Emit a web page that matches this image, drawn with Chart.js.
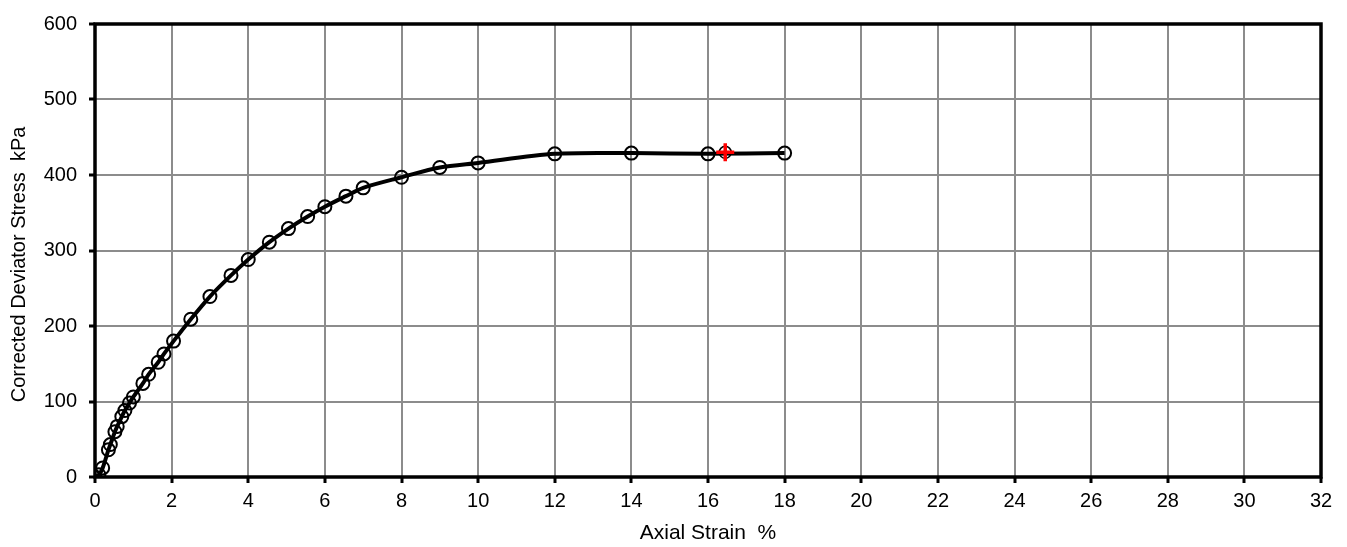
<!DOCTYPE html>
<html>
<head>
<meta charset="utf-8">
<script src="https://cdn.jsdelivr.net/npm/chart.js@4/dist/chart.umd.min.js"></script>
<style>
  html, body { margin: 0; padding: 0; background: #fff; }
  #wrap { width: 1347px; height: 547px; position: relative; }
</style>
</head>
<body>
<div id="wrap"><canvas id="c"></canvas></div>
<script>
// Axial strain (%) and corrected deviator stress (kPa)
const strain = [0, 0.1, 0.2, 0.35, 0.4, 0.52, 0.58, 0.7, 0.78, 0.9, 1.0, 1.25, 1.4, 1.65, 1.8, 2.05,
  2.5, 3.0, 3.55, 4.0, 4.55, 5.05, 5.55, 6.0, 6.55, 7.0, 8.0, 9.0, 10.0, 12.0, 14.0, 16.0, 18.0];
const stress = [0, 3, 12, 36, 43, 60, 67, 80, 88, 98, 106, 124, 136, 152, 163, 180,
  209, 239, 267, 288, 311, 329, 345, 358, 372, 383, 397, 410, 416, 428, 429, 428, 429];
// failure point
const failStrain = [16.45];
const failStress = [430];

const xTicks = [0, 2, 4, 6, 8, 10, 12, 14, 16, 18, 20, 22, 24, 26, 28, 30, 32];
const yTicks = [0, 100, 200, 300, 400, 500, 600];

const FONT = { family: 'Liberation Sans, Arial, sans-serif', size: 20 };
const TITLE_FONT = { family: 'Liberation Sans, Arial, sans-serif', size: 21 };

const toPts = (xs, ys) => xs.map((x, i) => ({ x: x, y: ys[i] }));

// frame round the plot area
const frame = {
  id: 'frame',
  afterDraw(chart) {
    const a = chart.chartArea, ctx = chart.ctx;
    ctx.save();
    ctx.strokeStyle = '#000';
    ctx.lineWidth = 3.5;
    ctx.strokeRect(a.left, a.top, a.right - a.left, a.bottom - a.top);
    ctx.restore();
  }
};

new Chart(document.getElementById('c'), {
  type: 'scatter',
  data: {
    datasets: [
      {
        data: toPts(failStrain, failStress),
        pointStyle: 'cross',
        pointRadius: 9,
        borderColor: '#ff0000',
        borderWidth: 3.5,
        showLine: false
      },
      {
        data: toPts(failStrain, failStress),
        pointStyle: 'circle',
        pointRadius: 6,
        borderColor: '#000',
        backgroundColor: 'rgba(0,0,0,0)',
        borderWidth: 1.5,
        showLine: false
      },
      {
        data: toPts(strain, stress),
        showLine: true,
        borderColor: '#000',
        borderWidth: 4,
        tension: 0.3,
        pointStyle: 'circle',
        pointRadius: 6.5,
        pointBorderWidth: 2,
        pointBorderColor: '#000',
        pointBackgroundColor: 'rgba(0,0,0,0)'
      }
    ]
  },
  options: {
    responsive: true,
    maintainAspectRatio: false,
    animation: false,
    layout: { padding: { top: 19, right: 26, left: 0, bottom: 0 } },
    plugins: { legend: { display: false }, tooltip: { enabled: false } },
    scales: {
      x: {
        type: 'linear',
        min: 0, max: 32,
        afterFit: s => { s.height = 70; },
        afterBuildTicks: s => { s.ticks = xTicks.map(v => ({ value: v })); },
        grid: { color: '#8c8c8c', lineWidth: 2, tickColor: '#000', tickLength: 6, tickWidth: 3 },
        border: { display: false },
        ticks: { color: '#000', font: FONT, padding: 6, maxRotation: 0 },
        title: { display: true, text: 'Axial Strain  %', color: '#000', font: TITLE_FONT, padding: { top: 2, bottom: 1 } }
      },
      y: {
        type: 'linear',
        min: 0, max: 600,
        afterFit: s => { s.width = 95; },
        afterBuildTicks: s => { s.ticks = yTicks.map(v => ({ value: v })); },
        grid: { color: '#8c8c8c', lineWidth: 2, tickColor: '#000', tickLength: 6, tickWidth: 3 },
        border: { display: false },
        ticks: { color: '#000', font: FONT, padding: 12 },
        title: { display: true, text: 'Corrected Deviator Stress  kPa     ', color: '#000', font: FONT, padding: { top: 7, bottom: 4 } }
      }
    }
  },
  plugins: [frame]
});
</script>
</body>
</html>
